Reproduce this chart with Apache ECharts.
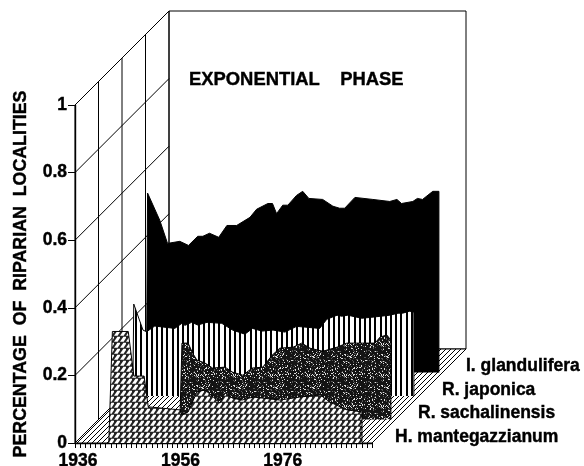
<!DOCTYPE html>
<html>
<head>
<meta charset="utf-8">
<title>Exponential phase</title>
<script src="https://cdn.jsdelivr.net/npm/echarts@6/dist/echarts.min.js"></script>
<style>
  html, body { margin: 0; padding: 0; background: #fff; }
  #chart { width: 584px; height: 466px; }
</style>
</head>
<body>
<div id="chart"></div>
<script>
// values: [year, share of riparian localities]
const mantegazzianum = [
  [1942.6, 0], [1943.3, 0.33], [1946.4, 0.33], [1947.5, 0.198], [1949.5, 0.198], [1950.3, 0.107],
  [1956.5, 0.098], [1956.9, 0.083], [1958.1, 0.092], [1959.8, 0.151], [1961.4, 0.157], [1963, 0.136],
  [1964.3, 0.118], [1965.3, 0.148], [1966.7, 0.133], [1968.6, 0.127], [1970.8, 0.136], [1976, 0.127],
  [1979.9, 0.136], [1983.9, 0.142], [1985.8, 0.121], [1989.1, 0.098], [1992.05, 0.092], [1992.05, 0]
]
const sachalinensis = [
  [1951.9, 0], [1952.3, 0.226], [1953.5, 0.226], [1954.4, 0.196], [1955.2, 0.176], [1956.8, 0.167],
  [1958.3, 0.152], [1960.7, 0.155], [1962.2, 0.14], [1964.2, 0.131], [1966, 0.152], [1968.1, 0.155],
  [1969.9, 0.19], [1971.4, 0.211], [1974, 0.214], [1975.7, 0.226], [1977.3, 0.211], [1979.8, 0.202],
  [1982.6, 0.214], [1984.5, 0.226], [1987.6, 0.226], [1990, 0.226], [1991, 0.244], [1992.3, 0.25],
  [1993.1, 0.235], [1993.1, 0]
]
const japonica = [
  [1938.1, 0], [1938.3, 0.272], [1940.1, 0.195], [1940.8, 0.19], [1942.4, 0.207], [1946.3, 0.2],
  [1947.7, 0.215], [1948.3, 0.209], [1949.6, 0.218], [1950.8, 0.21], [1952.6, 0.218], [1955.5, 0.215],
  [1957.6, 0.195], [1960, 0.183], [1961.5, 0.2], [1963.3, 0.192], [1965.5, 0.195], [1967.8, 0.189],
  [1970.1, 0.206], [1974.6, 0.2], [1976, 0.227], [1978, 0.239], [1978.9, 0.236], [1980.1, 0.239],
  [1982.8, 0.23], [1984.8, 0.233], [1988.3, 0.239], [1989.9, 0.245], [1990.8, 0.245], [1992.2, 0.251],
  [1993, 0.248], [1993, 0]
]
const glandulifera = [
  [1936.2, 0], [1936.4, 0.531], [1938.8, 0.45], [1940.3, 0.382], [1942.7, 0.388], [1944.4, 0.376],
  [1946.2, 0.403], [1947.2, 0.403], [1948.5, 0.412], [1950.3, 0.4], [1951.9, 0.435], [1953.8, 0.435],
  [1956.4, 0.459], [1957.7, 0.483], [1959.9, 0.5], [1960.8, 0.5], [1961.6, 0.47], [1962.8, 0.495],
  [1963.8, 0.495], [1965.5, 0.524], [1966.7, 0.536], [1967.9, 0.515], [1970.6, 0.512], [1972.6, 0.492],
  [1973.9, 0.486], [1974.9, 0.486], [1976.9, 0.518], [1980.4, 0.512], [1983.7, 0.506], [1985.1, 0.512],
  [1986, 0.5], [1988.2, 0.506], [1989.1, 0.515], [1990.1, 0.512], [1992.1, 0.536], [1993.3, 0.536],
  [1993.3, 0]
]
const xLabels = [1936, 1956, 1976]
const yTicks = [0, 0.2, 0.4, 0.6, 0.8, 1]
const depthSlots = [0, 1, 2, 3, 4]

const FONT = '"Liberation Sans", Arial, sans-serif'
const DX = 23.5 // one depth slot, px to the right and up

// small pattern tiles for the fills
function tile(w, h, draw) {
  const c = document.createElement('canvas')
  c.width = w
  c.height = h
  const g = c.getContext('2d')
  g.fillStyle = '#fff'
  g.fillRect(0, 0, w, h)
  draw(g)
  return { image: c, repeat: 'repeat' }
}
const hatch = tile(5, 5, g => {
  g.strokeStyle = '#000'
  g.lineWidth = 1
  for (let i = -5; i <= 10; i += 5) {
    g.beginPath(); g.moveTo(i, 5); g.lineTo(i + 5, 0); g.stroke()
  }
})
const weave = tile(6, 6, g => {
  g.fillStyle = '#222'
  g.fillRect(0, 0, 6, 6)
  g.fillStyle = '#fff'
  g.beginPath()
  g.moveTo(0, 5.8); g.lineTo(3.4, 0.8); g.lineTo(6, 0.8); g.lineTo(6, 2); g.lineTo(3.6, 5.8)
  g.closePath()
  g.fill()
})
const speckle = tile(37, 31, g => {
  g.fillStyle = '#141414'
  g.fillRect(0, 0, 37, 31)
  for (let y = 0; y < 31; y++) {
    for (let x = 0; x < 37; x++) {
      const k = ((x * 131 + y * 71) ^ (x * y * 17 + y * y * 5)) % 19
      if (k < 2) { g.fillStyle = '#ddd'; g.fillRect(x, y, 1, 1) }
      else if (k < 4) { g.fillStyle = '#555'; g.fillRect(x, y, 1, 1) }
    }
  }
})
const stripes = tile(26, 4, g => {
  g.fillStyle = '#000'
  for (let i = 0; i < 5; i++) g.fillRect(Math.round(i * 5.2), 0, 2, 4)
})

// oblique projection: a point on the front plane, pushed back by depth slots
function project(api, year, value, depth) {
  const p = api.coord([year, value])
  return [p[0] + depth * DX, p[1] - depth * DX]
}

const wallLine = { stroke: '#000', lineWidth: 1, fill: null }

const wallsSeries = {
  type: 'custom',
  coordinateSystem: 'cartesian2d',
  clip: false,
  silent: true,
  z: 1,
  data: [[0]],
  renderItem: (params, api) => {
    const xMin = 1936, xMax = 1994
    const children = []
    // back wall
    children.push({
      type: 'polygon',
      shape: { points: [project(api, xMin, 0, 4), project(api, xMin, 1, 4), project(api, xMax, 1, 4), project(api, xMax, 0, 4)] },
      style: { stroke: '#000', lineWidth: 1, fill: '#fff' }
    })
    // left wall, rising lines
    yTicks.forEach(v => {
      const a = project(api, xMin, v, 0), b = project(api, xMin, v, 4)
      children.push({ type: 'line', shape: { x1: a[0], y1: a[1], x2: b[0], y2: b[1] }, style: wallLine })
    })
    // left wall, upright lines
    depthSlots.forEach(d => {
      const a = project(api, xMin, 0, d), b = project(api, xMin, 1, d)
      children.push({ type: 'line', shape: { x1: a[0], y1: a[1], x2: b[0], y2: b[1] }, style: wallLine })
    })
    // floor
    children.push({
      type: 'polygon',
      shape: { points: [project(api, xMin, 0, 0), project(api, xMax, 0, 0), project(api, xMax, 0, 4), project(api, xMin, 0, 4)] },
      style: { stroke: '#000', lineWidth: 1, fill: hatch }
    })
    return { type: 'group', children }
  }
}

function layer(name, depth, data, fill) {
  return {
    name,
    type: 'line',
    xAxisIndex: depth,
    yAxisIndex: depth,
    data,
    symbol: 'none',
    smooth: false,
    z: 5 - depth,
    lineStyle: { color: '#000', width: 1 },
    areaStyle: { color: fill, opacity: 1 }
  }
}

// one plane per species, each set back by a depth slot
const grids = [0, 1, 2, 3].map(d => ({
  left: 75 + d * DX,
  top: 105 - d * DX,
  width: 297,
  height: 338,
  outerBoundsMode: 'none'
}))

const xAxes = grids.map((g, i) => ({
  type: 'value',
  gridIndex: i,
  min: 1936,
  max: 1994,
  interval: 1,
  show: i === 0,
  splitLine: { show: false },
  axisLine: { show: true, onZero: false, lineStyle: { color: '#000', width: 1.4 } },
  axisTick: { show: true, length: 5, lineStyle: { color: '#000', width: 1 } },
  axisLabel: {
    margin: 9,
    padding: [0, 0, 0, 6],
    color: '#000',
    fontFamily: FONT,
    fontWeight: 'bold',
    fontSize: 17.5,
    textBorderColor: '#000',
    textBorderWidth: 0.4,
    showMinLabel: true,
    formatter: v => (xLabels.includes(v) ? String(v) : '')
  }
}))

const yAxes = grids.map((g, i) => ({
  type: 'value',
  gridIndex: i,
  min: 0,
  max: 1,
  interval: 0.2,
  show: i === 0,
  name: i === 0 ? 'PERCENTAGE  OF  RIPARIAN  LOCALITIES' : '',
  nameLocation: 'middle',
  nameRotate: 90,
  nameGap: 45,
  nameTextStyle: {
    color: '#000',
    fontFamily: FONT,
    fontWeight: 'bold',
    fontSize: 17.8,
    textBorderColor: '#000',
    textBorderWidth: 0.4
  },
  splitLine: { show: false },
  axisLine: { show: true, onZero: false, lineStyle: { color: '#000', width: 1.4 } },
  axisTick: { show: true, length: 7, lineStyle: { color: '#000', width: 1 } },
  axisLabel: {
    margin: 8,
    color: '#000',
    fontFamily: FONT,
    fontWeight: 'bold',
    fontSize: 17.5,
    textBorderColor: '#000',
    textBorderWidth: 0.4
  }
}))

function boldText(text, x, y, size) {
  return {
    type: 'text',
    x,
    y,
    z: 20,
    silent: true,
    style: {
      text,
      fill: '#000',
      stroke: '#000',
      lineWidth: 0.4,
      font: 'bold ' + size + 'px ' + FONT,
      textVerticalAlign: 'middle'
    }
  }
}

const myChart = echarts.init(document.getElementById('chart'), null, { renderer: 'canvas' })
myChart.setOption({
  animation: false,
  backgroundColor: '#fff',
  grid: grids,
  xAxis: xAxes,
  yAxis: yAxes,
  series: [
    wallsSeries,
    layer('I. glandulifera', 3, glandulifera, '#000'),
    layer('R. japonica', 2, japonica, stripes),
    layer('R. sachalinensis', 1, sachalinensis, speckle),
    layer('H. mantegazzianum', 0, mantegazzianum, weave)
  ],
  graphic: [
    boldText('EXPONENTIAL    PHASE', 189, 80, 18.4),
    boldText('I. glandulifera', 466, 366, 17.5),
    boldText('R. japonica', 442, 390, 17.5),
    boldText('R. sachalinensis', 418, 413, 17.5),
    boldText('H. mantegazzianum', 395, 437, 17.5)
  ]
})
</script>
</body>
</html>
